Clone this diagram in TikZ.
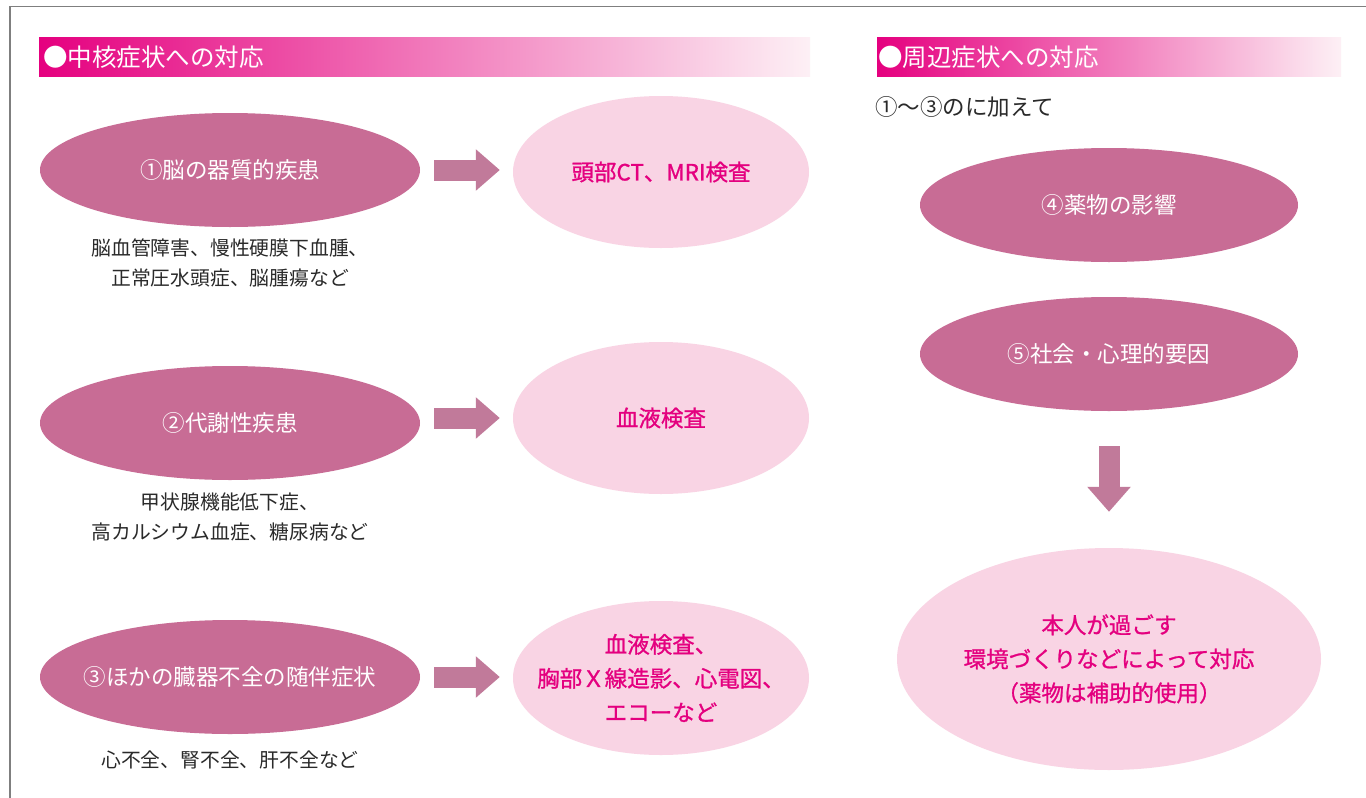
\documentclass[tikz,border=0pt]{standalone}
\usepackage{fontspec}
\setmainfont{Noto Sans CJK JP}
\newfontfamily\magfont[FakeBold=1]{Noto Sans CJK JP}
\usetikzlibrary{shapes.geometric,arrows.meta}
\definecolor{darkell}{HTML}{C86C95}
\definecolor{lightell}{HTML}{F9D4E4}
\definecolor{arrowc}{HTML}{C17A9A}
\definecolor{magtext}{HTML}{E4007F}
\definecolor{bodytext}{HTML}{2A2A2A}
\definecolor{headL}{HTML}{E5007F}
\definecolor{headR}{HTML}{FDF0F5}
\definecolor{frame}{HTML}{7F7F7F}
\tikzset{
  darkE/.style={ellipse, fill=darkell, draw=none, inner sep=0pt, minimum width=380pt, minimum height=114pt},
  lightE/.style={ellipse, fill=lightell, draw=none, inner sep=0pt},
  darkT/.style={text=white, inner sep=0pt, font=\fontsize{22.5}{26}\selectfont},
  lightT/.style={text=magtext, align=center, inner sep=0pt, font=\magfont\fontsize{22.5}{34}\selectfont},
  subtxt/.style={text=bodytext, align=center, inner sep=0pt, font=\fontsize{19.8}{30}\selectfont},
  hbar/.style={left color=headL, right color=headR, draw=none},
  htxt/.style={text=white, anchor=west, inner sep=0pt, font=\fontsize{24.5}{28}\selectfont},
  barrow/.style={draw=arrowc, line width=21pt, -{Triangle[width=40pt,length=24pt]}},
}
\begin{document}
\begin{tikzpicture}[x=1pt,y=-1pt]
\useasboundingbox (0,0) rectangle (1366,798);
\fill[white] (0,0) rectangle (1366,798);
% frame
\draw[frame, line width=1.5pt] (10,799) -- (10,6.5) -- (1367,6.5);
% headers
\fill[hbar] (39,37) rectangle (810,76);
\node[htxt] (h1) at (43,57) {●中核症状への対応};
\fill[hbar] (877,37) rectangle (1341,76);
\node[htxt] (h2) at (878,57) {●周辺症状への対応};
\node[text=bodytext, anchor=west, inner sep=0pt, font=\fontsize{22.5}{26}\selectfont] (plus) at (875,107) {①〜③のに加えて};
% left column
\node[darkE] (e1) at (230,170) {};
\node[darkT] (e1t) at (e1) {①脳の器質的疾患};
\node[darkE] (e2) at (230,423) {};
\node[darkT] (e2t) at (e2) {②代謝性疾患};
\node[darkE] (e3) at (230,677) {};
\node[darkT] (e3t) at (e3) {③ほかの臓器不全の随伴症状};
\node[subtxt] (s1) at (230,263) {脳血管障害、慢性硬膜下血腫、\\正常圧水頭症、脳腫瘍など};
\node[subtxt] (s2) at (230,517) {甲状腺機能低下症、\\高カルシウム血症、糖尿病など};
\node[subtxt] (s3) at (230,760) {心不全、腎不全、肝不全など};
% right of left column
\node[lightE, minimum width=296pt, minimum height=152pt] (r1) at (661,172) {};
\node[lightT] (r1t) at (r1) {頭部CT、MRI検査};
\node[lightE, minimum width=296pt, minimum height=152pt] (r2) at (661,418) {};
\node[lightT] (r2t) at (r2) {血液検査};
\node[lightE, minimum width=296pt, minimum height=154pt] (r3) at (661,678) {};
\node[lightT] (r3t) at (r3) {血液検査、\\胸部Ｘ線造影、心電図、\\エコーなど};
% arrows
\coordinate (a1) at (e1.east |- 0,170);
\coordinate (a2) at (e2.east |- 0,418);
\coordinate (a3) at (e3.east |- 0,677);
\draw[barrow, shorten <=14pt, shorten >=13pt] (a1) -- (a1 -| r1.west);
\draw[barrow, shorten <=14pt, shorten >=13pt] (a2) -- (a2 -| r2.west);
\draw[barrow, shorten <=14pt, shorten >=13pt] (a3) -- (a3 -| r3.west);
% right column
\node[darkE, minimum width=378pt] (e4) at (1109,205) {};
\node[darkT] (e4t) at (e4) {④薬物の影響};
\node[darkE, minimum width=378pt] (e5) at (1109,354) {};
\node[darkT] (e5t) at (e5) {⑤社会・心理的要因};
\node[lightE, minimum width=424pt, minimum height=222pt] (big) at (1109,659) {};
\node[lightT] (bigt) at (big) {本人が過ごす\\環境づくりなどによって対応\\（薬物は補助的使用）};
\draw[barrow, -{Triangle[width=42pt,length=25pt]}, shorten <=35pt, shorten >=36pt] (e5.south) -- (big.north);
\end{tikzpicture}
\end{document}
